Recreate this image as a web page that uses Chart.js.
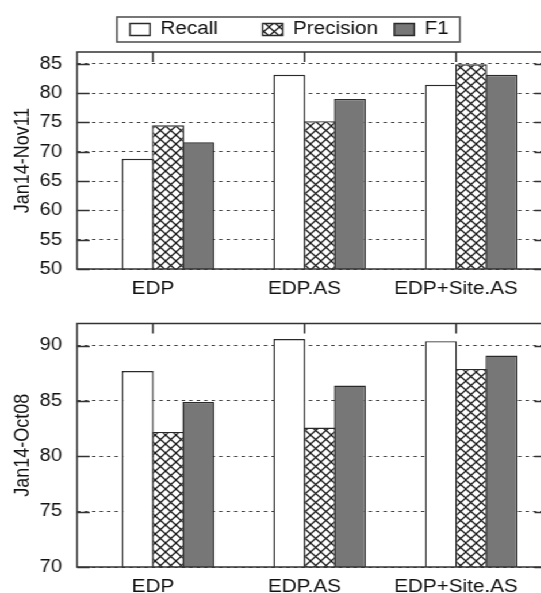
<!DOCTYPE html>
<html>
<head>
<meta charset="utf-8">
<script src="https://cdn.jsdelivr.net/npm/chart.js@4.4.1/dist/chart.umd.min.js"></script>
<style>
  html, body { margin: 0; padding: 0; background: #fff; overflow: hidden; }
  body { width: 541px; height: 593px; }
  /* both panels are laid out narrow and widened together */
  #stretch { width: 487px; transform: scaleX(1.15); transform-origin: 0 0; }
  .panel { position: relative; width: 487px; }
  #topPanel { height: 300px; }
  #bottomPanel { height: 293px; }
</style>
</head>
<body>
<div id="stretch">
  <div class="panel" id="topPanel"><canvas id="topChart"></canvas></div>
  <div class="panel" id="bottomPanel"><canvas id="bottomChart"></canvas></div>
</div>
<script>
const categories = ['EDP', 'EDP.AS', 'EDP+Site.AS'];

// Jan14-Nov11
const nov11Recall    = [68.8, 83.1, 81.4];
const nov11Precision = [74.5, 75.2, 84.9];
const nov11F1        = [71.6, 79.0, 83.1];
const nov11Ticks     = [50, 55, 60, 65, 70, 75, 80, 85];

// Jan14-Oct08
const oct08Recall    = [87.7, 90.6, 90.4];
const oct08Precision = [82.2, 82.6, 87.9];
const oct08F1        = [84.9, 86.4, 89.1];
const oct08Ticks     = [70, 75, 80, 85, 90];

const labelShift = 0.1;   // category labels sit a little left of their bar group
const ink = '#111';

Chart.defaults.font.family = "'Liberation Sans', Arial, sans-serif";
Chart.defaults.color = ink;

// crosshatch fill for the precision bars
function crossHatch() {
  const c = document.createElement('canvas');
  c.width = 9; c.height = 9;
  const g = c.getContext('2d');
  g.fillStyle = '#fff';
  g.fillRect(0, 0, 9, 9);
  g.strokeStyle = '#1a1a1a';
  g.lineWidth = 1.25;
  g.beginPath();
  g.moveTo(-1, -1); g.lineTo(10, 10);
  g.moveTo(10, -1); g.lineTo(-1, 10);
  g.stroke();
  return g.createPattern(c, 'repeat');
}
const hatch = crossHatch();

function points(vals) {
  return vals.map((v, i) => ({ x: i, y: v }));
}

function buildSets(recall, precision, f1) {
  const common = { borderColor: '#2a2a2a', borderWidth: 1.4, barPercentage: 1.053, categoryPercentage: 0.6 };
  return [
    Object.assign({ label: 'Recall', data: points(recall), backgroundColor: '#fff' }, common),
    Object.assign({ label: 'Precision', data: points(precision), backgroundColor: hatch }, common),
    Object.assign({ label: 'F1', data: points(f1), backgroundColor: '#777' }, common)
  ];
}

// gnuplot style box: solid frame plus inward tick marks
const frame = {
  id: 'frame',
  afterDatasetsDraw(chart) {
    const { ctx, chartArea: a, scales: { x, y } } = chart;
    ctx.save();
    ctx.strokeStyle = '#333';
    ctx.lineWidth = 1.5;
    ctx.beginPath();
    y.ticks.forEach(t => {
      const py = Math.round(y.getPixelForValue(t.value)) + 0.5;
      ctx.moveTo(a.left, py); ctx.lineTo(a.left + 11, py);
      ctx.moveTo(a.right, py); ctx.lineTo(a.right - 11, py);
    });
    x.ticks.forEach(t => {
      const px = x.getPixelForValue(t.value);
      ctx.moveTo(px, a.top); ctx.lineTo(px, a.top + 10);
    });
    ctx.stroke();
    ctx.strokeRect(a.left, a.top, a.right - a.left, a.bottom - a.top);
    ctx.restore();
  }
};

// legend: fixed height above the plot, boxed, placed by hand
const legendBox = {
  id: 'legendBox',
  beforeLayout(chart, args, opts) {
    const lg = chart.legend;
    if (!lg || lg._fixed) return;
    const fit = lg.fit;
    lg.fit = function () { fit.call(this); this.height = opts.height; };
    lg._fixed = true;
  },
  afterLayout(chart, args, opts) {
    const lg = chart.legend;
    const pad = chart.options.plugins.legend.labels.padding;
    const w = lg.right - lg.left;
    lg.left = opts.left - pad; lg.right = lg.left + w;
    lg.top = opts.mid - pad - 9; lg.bottom = lg.top + opts.height;
  },
  afterDraw(chart, args, opts) {
    const hb = chart.legend.legendHitBoxes;
    if (!hb || !hb.length) return;
    const first = hb[0], last = hb[hb.length - 1];
    const x0 = first.left - 11.3;
    const x1 = last.left + last.width + 9.6;
    const ctx = chart.ctx;
    ctx.save();
    ctx.strokeStyle = '#555';
    ctx.lineWidth = 1.6;
    ctx.strokeRect(x0, opts.mid - 12.5, x1 - x0, 25);
    ctx.restore();
  }
};

// legend columns have a fixed width, so the first entry carries some trailing room
function legendLabels(chart) {
  const items = Chart.defaults.plugins.legend.labels.generateLabels(chart);
  items[0].text = items[0].text + '\u00a0\u00a0\u00a0\u00a0\u00a0';
  return items;
}

function makeChart(id, sets, yMin, yMax, ticks, title, withLegend, padTop, xHeight) {
  return new Chart(document.getElementById(id), {
    type: 'bar',
    data: { datasets: sets },
    plugins: [frame].concat(withLegend ? [legendBox] : []),
    options: {
      responsive: true,
      maintainAspectRatio: false,
      animation: false,
      layout: { padding: { top: padTop, right: 11.3, bottom: 0, left: 0 } },
      plugins: {
        tooltip: { enabled: false },
        legend: {
          display: withLegend,
          align: 'start',
          labels: {
            boxWidth: 17.4, boxHeight: 12, padding: 14,
            font: { size: 18 }, color: ink,
            generateLabels: legendLabels
          }
        },
        legendBox: { height: 52, left: 113, mid: 29.5 }
      },
      scales: {
        x: {
          type: 'linear',
          offset: false,
          min: -0.6, max: 2.5,
          afterBuildTicks: s => { s.ticks = categories.map((c, i) => ({ value: i - labelShift })); },
          afterFit: s => { s.height = xHeight; },
          grid: { display: false, drawTicks: false },
          border: { display: false },
          ticks: {
            callback: (v, i) => categories[i],
            autoSkip: false, maxRotation: 0,
            padding: 9, font: { size: 18 }, color: ink
          }
        },
        y: {
          min: yMin, max: yMax,
          afterBuildTicks: s => { s.ticks = ticks.map(v => ({ value: v })); },
          afterFit: s => { s.width = 67; },
          grid: { color: '#444', lineWidth: 1, drawTicks: false },
          border: { display: false, dash: [3, 3.5] },
          ticks: { padding: 13, font: { size: 17.5 }, color: ink },
          title: {
            display: true, text: title,
            font: { size: 18 }, color: ink,
            padding: { top: 9, bottom: 0 }
          }
        }
      }
    }
  });
}

makeChart('topChart', buildSets(nov11Recall, nov11Precision, nov11F1),
  50, 87, nov11Ticks, 'Jan14-Nov11', true, 0, 31);
makeChart('bottomChart', buildSets(oct08Recall, oct08Precision, oct08F1),
  70, 92, oct08Ticks, 'Jan14-Oct08', false, 20, 26);
</script>
</body>
</html>
